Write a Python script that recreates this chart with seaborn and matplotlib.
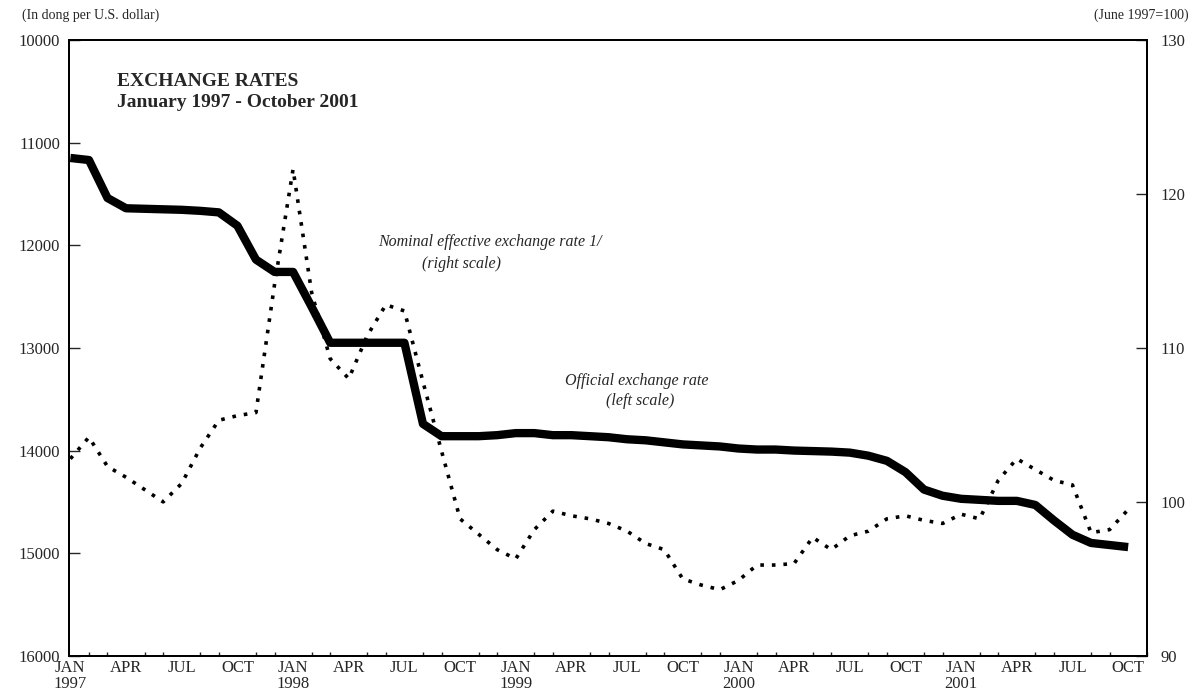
import numpy as np
import pandas as pd
import matplotlib
matplotlib.use("Agg")
import matplotlib.pyplot as plt
import seaborn as sns
from matplotlib.ticker import MultipleLocator

# months since January 1997 (0 = JAN 1997 ... 57 = OCT 2001)
months = list(range(58))

# official exchange rate, dong per U.S. dollar (left scale, inverted)
official = [11150, 11170, 11540, 11640, 11645, 11650, 11655, 11665, 11680, 11810,
            12140, 12260, 12260, 12600, 12950, 12950, 12950, 12950, 12950, 13740,
            13860, 13860, 13860, 13850, 13830, 13830, 13850, 13850, 13860, 13870,
            13890, 13900, 13920, 13940, 13950, 13960, 13980, 13990, 13990, 14000,
            14005, 14010, 14020, 14050, 14100, 14210, 14380, 14440, 14470, 14480,
            14490, 14490, 14530, 14680, 14820, 14900, 14920, 14940]

# nominal effective exchange rate, June 1997 = 100 (right scale)
neer = [102.8, 104.2, 102.3, 101.6, 100.8, 100.0, 101.2, 103.5, 105.3, 105.6,
        105.8, 114.1, 121.6, 113.6, 109.3, 108.0, 110.8, 112.8, 112.4, 107.8,
        103.3, 98.9, 97.9, 96.9, 96.3, 98.2, 99.4, 99.1, 98.9, 98.6,
        98.1, 97.3, 96.9, 95.0, 94.6, 94.3, 94.9, 95.9, 95.9, 96.0,
        97.7, 96.9, 97.8, 98.1, 98.9, 99.1, 98.8, 98.6, 99.2, 98.9,
        101.4, 102.8, 102.1, 101.4, 101.1, 98.0, 98.2, 99.5]

tick_months = list(range(0, 58, 3))
tick_labels = ['JAN\n1997', 'APR', 'JUL', 'OCT',
               'JAN\n1998', 'APR', 'JUL', 'OCT',
               'JAN\n1999', 'APR', 'JUL', 'OCT',
               'JAN\n2000', 'APR', 'JUL', 'OCT',
               'JAN\n2001', 'APR', 'JUL', 'OCT']

df = pd.DataFrame({'month': months, 'official': official, 'neer': neer})

sns.set_style("white")
plt.rcParams['font.family'] = ['Liberation Serif', 'DejaVu Serif']

fig, ax = plt.subplots(figsize=(12.02, 7.0), dpi=100)
fig.subplots_adjust(left=0.057, right=0.954, top=0.943, bottom=0.063)

sns.lineplot(data=df, x='month', y='official', ax=ax, color='black', lw=6,
             solid_joinstyle='round', solid_capstyle='butt')
ax.set_ylim(16000, 10000)
ax.set_xlim(-0.1, 58.0)
ax.set_xlabel('')
ax.set_ylabel('')
ax.set_yticks([10000, 11000, 12000, 13000, 14000, 15000, 16000])
ax.set_yticklabels(['10000', '11000', '12000', '13000', '14000', '15000', '16000'])
ax.set_xticks(tick_months)
ax.set_xticklabels(tick_labels, fontsize=12, linespacing=1.0)
ax.xaxis.set_minor_locator(MultipleLocator(1))
ax.tick_params(axis='x', which='major', direction='in', length=7, width=1, pad=3)
ax.tick_params(axis='x', which='minor', direction='in', length=3, width=1, bottom=True)
ax.tick_params(axis='y', direction='in', length=8, width=1, labelsize=12, left=True, pad=6)

ax2 = ax.twinx()
sns.lineplot(data=df, x='month', y='neer', ax=ax2, color='black', lw=2.6,
             linestyle=(0, (1, 2.2)))
ax2.set_ylim(90, 130)
ax2.set_ylabel('')
ax2.set_yticks([90, 100, 110, 120, 130])
ax2.tick_params(axis='y', direction='in', length=8, width=1, labelsize=12, right=True, pad=10)

for a in (ax, ax2):
    for s in a.spines.values():
        s.set_color('black')
        s.set_linewidth(1.4)

fig.text(0.018, 0.978, '(In dong per U.S. dollar)', fontsize=10, va='center', ha='left')
fig.text(0.989, 0.978, '(June 1997=100)', fontsize=10, va='center', ha='right')

fig.text(0.097, 0.895, 'EXCHANGE RATES\nJanuary 1997 - October 2001', fontsize=14,
         fontweight='bold', va='top', ha='left', linespacing=1.3)

ax.text(22.6, 11970, 'Nominal effective exchange rate 1/', fontsize=11.5,
        style='italic', ha='center', va='center')
ax.text(21.1, 12180, '(right scale)', fontsize=11.5, style='italic',
        ha='center', va='center')
ax.text(30.5, 13320, 'Official exchange rate', fontsize=11.5,
        style='italic', ha='center', va='center')
ax.text(30.7, 13520, '(left scale)', fontsize=11.5, style='italic',
        ha='center', va='center')

fig.savefig('out.png', dpi=100)
